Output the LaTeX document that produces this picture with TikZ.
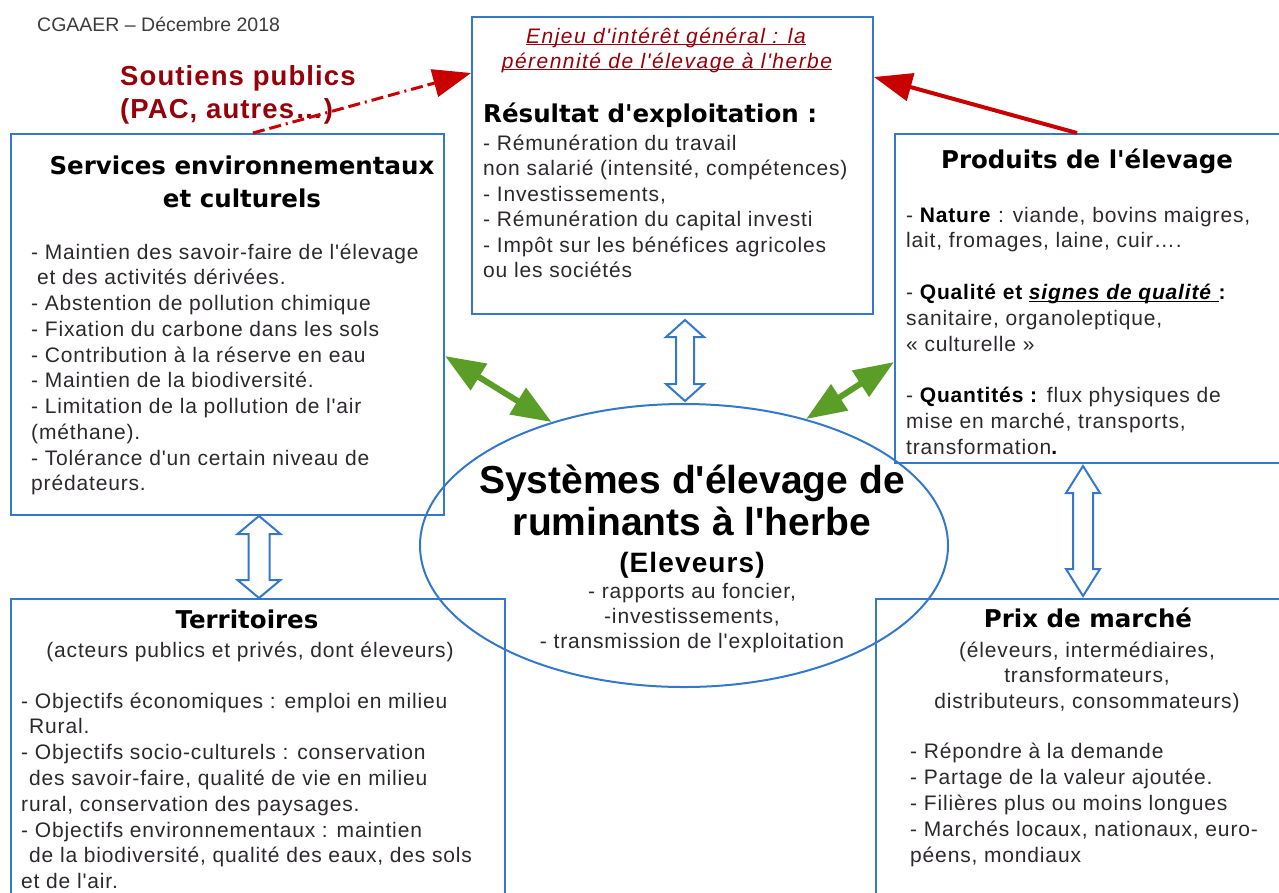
\documentclass[tikz,border=0pt]{standalone}
\usepackage{fontspec}
\setmainfont{Liberation Sans}[LetterSpace=4,Ligatures=TeXOff]
\newfontfamily\plainfont{Liberation Sans}
\newfontfamily\titlefont{DejaVu Sans}
\usetikzlibrary{arrows.meta,calc,shapes.geometric}
\definecolor{boxblue}{RGB}{52,120,205}
\definecolor{bodytext}{RGB}{45,40,45}
\definecolor{darkred}{RGB}{150,0,10}
\definecolor{arrowred}{RGB}{200,0,0}
\definecolor{arrowgreen}{RGB}{90,158,40}
\definecolor{graytext}{RGB}{60,60,60}
\newcommand\myul[1]{\underline{\smash{#1}}}
% hollow double arrow: #1 top tip, #2 bottom tip, #3 head half width, #4 shaft half width, #5 head length
\newcommand\hollowarrow[5]{%
  \draw[hollow] (#1) -- ($(#1)+(#3,#5)$) -- ($(#1)+(#4,#5)$) -- ($(#2)+(#4,-#5)$)
    -- ($(#2)+(#3,-#5)$) -- (#2) -- ($(#2)+(-#3,-#5)$) -- ($(#2)+(-#4,-#5)$)
    -- ($(#1)+(-#4,#5)$) -- ($(#1)+(-#3,#5)$) -- cycle;}
\begin{document}
\begin{tikzpicture}[x=1pt,y=-1pt,
  box/.style={draw=boxblue, line width=2pt, rectangle, inner sep=0pt, anchor=north west},
  hollow/.style={draw=boxblue, line width=2pt, fill=white, line join=miter},
  txt/.style={inner sep=0pt, anchor=base west, text=bodytext, font=\fontsize{21}{25}\selectfont},
  ctxt/.style={txt, anchor=base},
  ttl/.style={inner sep=0pt, anchor=base, text=black, font=\titlefont\fontsize{24.5}{30}\selectfont\bfseries},
  greenarrow/.style={arrowgreen, line width=6pt, {Triangle[length=40pt,width=30pt]}-{Triangle[length=40pt,width=30pt]}},
  redarrow/.style={arrowred, line width=4pt, -{Triangle[length=38pt,width=28pt]}},
]
\useasboundingbox (0,0) rectangle (1279,892);
\clip (0,0) rectangle (1279,892);

% boxes
\node[box, minimum width=401pt, minimum height=297pt] (top) at (471,16) {};
\node[box, minimum width=433pt, minimum height=381pt] (svc) at (10,133) {};
\node[box, minimum width=400pt, minimum height=329pt] (prod) at (894,133) {};
\node[box, minimum width=494pt, minimum height=320pt] (terr) at (10,598) {};
\node[box, minimum width=420pt, minimum height=320pt] (prix) at (875,598) {};
\node[ellipse, draw=boxblue, line width=2pt, inner sep=0pt, minimum width=528pt, minimum height=283pt] (ell) at (684,545.5) {};

% header texts
\node[txt, text=graytext, font=\plainfont\fontsize{19.5}{24}\selectfont] (hdr) at (37,31) {CGAAER – Décembre 2018};
\node[txt, text=darkred, font=\fontsize{27.5}{32}\selectfont\bfseries] (sout1) at (120,85) {Soutiens publics};
\node[txt, text=darkred, font=\fontsize{27.5}{32}\selectfont\bfseries] (sout2) at (120,118) {(PAC, autres…)};

% top box
\node[ctxt, text=darkred, font=\fontsize{21}{25}\selectfont\itshape\addfontfeature{LetterSpace=7}] (en1) at (666,43) {\myul{Enjeu d'intérêt général : la}};
\node[ctxt, text=darkred, font=\fontsize{21}{25}\selectfont\itshape\addfontfeature{LetterSpace=7}] (en2) at (667,68) {\myul{pérennité de l'élevage à l'herbe}};
\node[txt, text=black, font=\titlefont\fontsize{24.5}{30}\selectfont\bfseries] (res) at (483,122) {Résultat d'exploitation :};
\foreach \t [count=\i from 0] in {{- Rémunération du travail},{non salarié (intensité, compétences)},{- Investissements,},{- Rémunération du capital investi},{- Impôt sur les bénéfices agricoles},{ou les sociétés}}
  \node[txt, name=topl\i] at (483,{150+25.5*\i}) {\t};

% services box
\node[ttl] (svct1) at (242,174) {Services environnementaux};
\node[ttl] (svct2) at (242,207) {et culturels};
\foreach \t [count=\i from 0] in {{- Maintien des savoir-faire de l'élevage},{\hspace{6pt}et des activités dérivées.},{- Abstention de pollution chimique},{- Fixation du carbone dans les sols},{- Contribution à la réserve en eau},{- Maintien de la biodiversité.},{- Limitation de la pollution de l'air},{(méthane).},{- Tolérance d'un certain niveau de},{prédateurs.}}
  \node[txt, name=svcl\i] at (31,{259+25.75*\i}) {\t};

% produits box
\node[ttl] (prodt) at (1087,168) {Produits de l'élevage};
\foreach \t [count=\i from 0] in {{- \textcolor{black}{\textbf{Nature}} : viande, bovins maigres,},{lait, fromages, laine, cuir….},{},{- \textcolor{black}{\textbf{Qualité et \myul{\textit{signes de qualité }}:}}},{sanitaire, organoleptique,},{« culturelle »},{},{- \textcolor{black}{\textbf{Quantités :}} flux physiques de},{mise en marché, transports,},{transformation\textcolor{black}{\textbf{.}}}}
  \node[txt, name=prodl\i] at (906,{222+25.8*\i}) {\t};

% ellipse texts
\node[inner sep=0pt, anchor=base, font=\plainfont\fontsize{39}{44}\selectfont\bfseries] (sys1) at (692,493) {Systèmes d'élevage de};
\node[inner sep=0pt, anchor=base, font=\plainfont\fontsize{39}{44}\selectfont\bfseries] (sys2) at (692,535) {ruminants à l'herbe};
\node[inner sep=0pt, anchor=base, font=\fontsize{28}{32}\selectfont\bfseries] (elev) at (692,572) {(Eleveurs)};
\foreach \t [count=\i from 0] in {{- rapports au foncier,},{-investissements,},{- transmission de l'exploitation}}
  \node[ctxt, name=elll\i] at (692,{598+25*\i}) {\t};

% territoires box
\node[ttl] (terrt) at (247,628) {Territoires};
\node[ctxt] (terrs) at (250,657) {(acteurs publics et privés, dont éleveurs)};
\foreach \t [count=\i from 0] in {{- Objectifs économiques : emploi en milieu},{\hspace{8pt}Rural.},{- Objectifs socio-culturels : conservation},{\hspace{8pt}des savoir-faire, qualité de vie en milieu},{rural, conservation des paysages.},{- Objectifs environnementaux : maintien},{\hspace{8pt}de la biodiversité, qualité des eaux, des sols},{et de l'air.}}
  \node[txt, name=terrl\i] at (21,{708+25.8*\i}) {\t};

% prix box
\node[ttl] (prixt) at (1088,627) {Prix de marché};
\foreach \t [count=\i from 0] in {{(éleveurs, intermédiaires,},{transformateurs,},{distributeurs, consommateurs)}}
  \node[ctxt, name=prixs\i] at (1087,{657+25.5*\i}) {\t};
\foreach \t [count=\i from 0] in {{- Répondre à la demande},{- Partage de la valeur ajoutée.},{- Filières plus ou moins longues},{- Marchés locaux, nationaux, euro-},{péens, mondiaux}}
  \node[txt, name=prixl\i] at (910,{758+26*\i}) {\t};

% connectors
\coordinate (dashstart) at ($(svc.north west)+(243,0)$);
\draw[redarrow, line width=3pt, dash pattern=on 12pt off 5pt on 12pt off 5pt on 2pt off 5pt] (dashstart) -- ($(top.north west)+(0,57)$);
\draw[redarrow] ($(prod.north west)+(183,0)$) -- ($(top.north east)+(0,61)$);
\draw[greenarrow] ($(svc.north east)+(0,223)$) -- (ell.137);
\draw[greenarrow] (ell.46.5) -- ($(prod.north west)+(0,229)$);

\coordinate (ca) at ($(top.south -| ell.north)+(1,5)$);
\coordinate (cb) at ($(ell.north)+(1,-2)$);
\hollowarrow{ca}{cb}{19}{9}{17}
\coordinate (la) at ($(svc.south west)+(249,0)$);
\coordinate (lb) at ($(terr.north west)+(249,0)$);
\hollowarrow{la}{lb}{21.5}{10.5}{18}
\coordinate (ra) at ($(prod.south west)+(189,2)$);
\coordinate (rb) at ($(prix.north west)+(208,-2)$);
\hollowarrow{ra}{rb}{17}{10}{27}
\end{tikzpicture}
\end{document}
